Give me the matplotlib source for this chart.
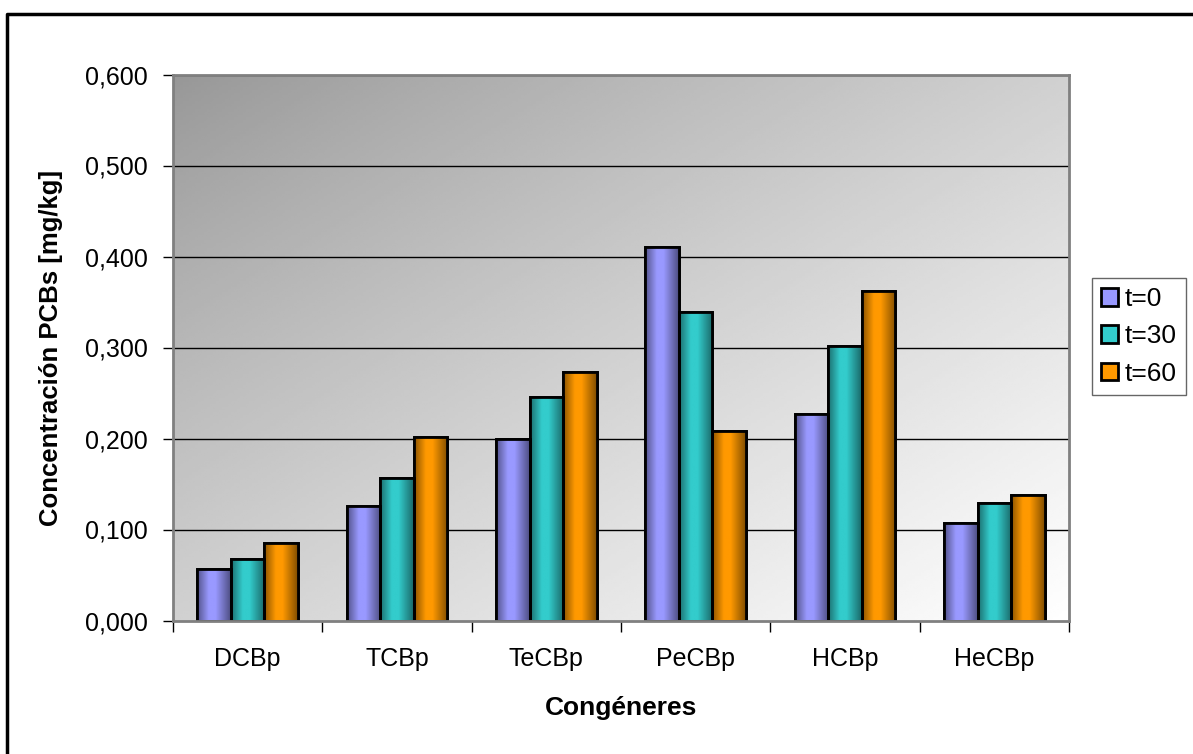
import numpy as np
import matplotlib
matplotlib.use('Agg')
import matplotlib.pyplot as plt
from matplotlib.lines import Line2D
from matplotlib.colors import to_rgb

plt.rcParams['font.family'] = ['Liberation Sans', 'DejaVu Sans']

# Dados
congeneres = ['DCBp', 'TCBp', 'TeCBp', 'PeCBp', 'HCBp', 'HeCBp']
t0 = [0.057, 0.126, 0.200, 0.410, 0.227, 0.107]
t30 = [0.068, 0.157, 0.246, 0.339, 0.302, 0.129]
t60 = [0.085, 0.202, 0.273, 0.208, 0.362, 0.138]
series = [('t=0', t0, '#9999ff'), ('t=30', t30, '#33cccc'), ('t=60', t60, '#ff9900')]
y_ticks = [0.0, 0.1, 0.2, 0.3, 0.4, 0.5, 0.6]

fig = plt.figure(figsize=(11.93, 7.54), dpi=100)
ax = fig.add_axes([173 / 1193, 1 - 620.5 / 754, (1069 - 173) / 1193, (620.5 - 74.5) / 754])

# Fundo em degradê diagonal (cinza -> branco)
gx, gy = np.meshgrid(np.linspace(0, 1, 300), np.linspace(0, 1, 200))
t = (gx + gy) / 2
fundo = 0.59 + 0.41 * t ** 0.85
ax.imshow(fundo, cmap='gray', vmin=0, vmax=1, extent=[0, 1, 0, 1],
          transform=ax.transAxes, aspect='auto', origin='upper', zorder=0)

# Grade
for v in y_ticks[1:]:
    ax.axhline(v, color='black', linewidth=1, zorder=1)

# Perfil de sombreamento horizontal das barras
xs = np.linspace(0, 1, 60)
perfil = np.interp(xs, [0, 0.08, 0.35, 0.55, 0.92, 1.0], [0.55, 0.65, 1.0, 1.0, 0.6, 0.5])

n = len(congeneres)
x = np.arange(n)
largura = 0.225
for i, (nome, vals, cor) in enumerate(series):
    pos = x + (i - 1) * largura
    barras = ax.bar(pos, vals, largura, color=cor, edgecolor='black', linewidth=2,
                    label=nome, zorder=2)
    rgb = np.array(to_rgb(cor))
    img = (perfil[:, None] * rgb[None, :])[None, :, :]
    for b in barras:
        x0, w, h = b.get_x(), b.get_width(), b.get_height()
        im = ax.imshow(img, extent=[x0, x0 + w, 0, h], aspect='auto', zorder=2.5)
        im.set_clip_path(b)
    ax.bar(pos, vals, largura, fill=False, edgecolor='black', linewidth=2, zorder=3)

ax.set_xlim(-0.5, n - 0.5)
ax.set_ylim(0, 0.6)
ax.set_yticks(y_ticks)
ax.set_yticklabels([f'{v:.3f}'.replace('.', ',') for v in y_ticks], fontsize=18)
ax.set_xticks(x)
ax.set_xticklabels(congeneres, fontsize=18)
ax.set_xticks(np.arange(-0.5, n), minor=True)
ax.tick_params(axis='x', which='major', length=0, pad=19)
ax.tick_params(axis='x', which='minor', length=8, width=1, direction='out')
ax.tick_params(axis='y', length=7, width=1, direction='out', pad=11)

for s in ax.spines.values():
    s.set_color('#808080')
    s.set_linewidth(2)
    s.set_zorder(4)

ax.set_ylabel('Concentración PCBs [mg/kg]', fontsize=18.5, fontweight='bold', labelpad=16)
ax.set_xlabel('Congéneres', fontsize=19, fontweight='bold', labelpad=18)

leg = ax.legend(loc='upper left', bbox_to_anchor=(1092 / 1193, 1 - 278 / 754),
                bbox_transform=fig.transFigure, fontsize=19, frameon=True, fancybox=False,
                handlelength=0.65, handleheight=0.65, handletextpad=0.25, labelspacing=0.5,
                borderpad=0.35, borderaxespad=0)
leg.get_frame().set_edgecolor('#404040')
leg.get_frame().set_linewidth(1)

# Moldura externa
fig.add_artist(Line2D([7 / 1193, 7 / 1193, 1], [0, 1 - 14 / 754, 1 - 14 / 754],
                      transform=fig.transFigure, color='black', linewidth=2.5))

fig.savefig('out.png', dpi=100)
